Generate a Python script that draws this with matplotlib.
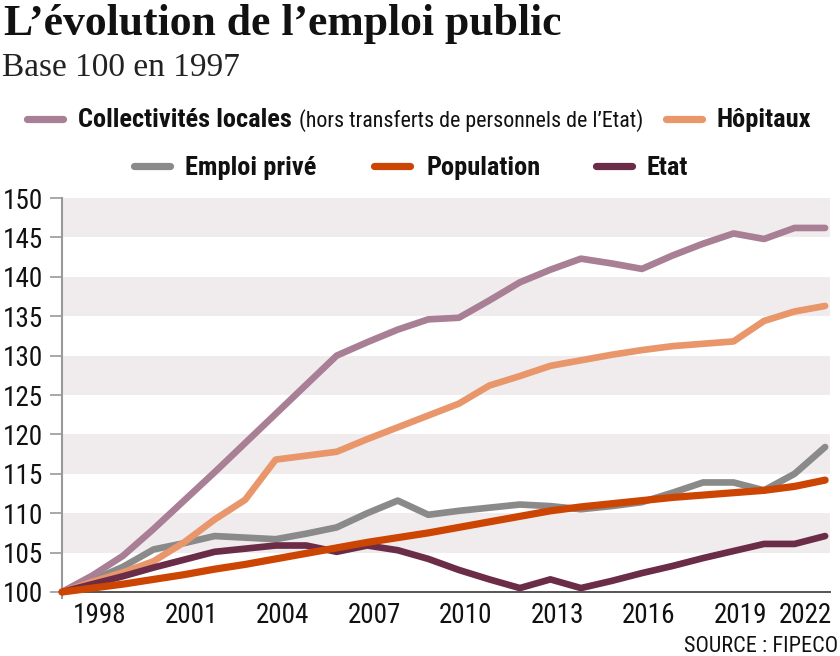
import matplotlib
matplotlib.use("Agg")
import matplotlib.pyplot as plt
from matplotlib import font_manager
from matplotlib.lines import Line2D
import matplotlib.transforms as mtransforms

years = list(range(1997, 2023))

collectivites = [100, 102.1, 104.6, 108.0, 111.6, 115.2, 118.9, 122.6, 126.3, 130.0,
                 131.7, 133.3, 134.6, 134.8, 137.0, 139.3, 140.9, 142.3, 141.7, 141.0,
                 142.7, 144.2, 145.5, 144.8, 146.2, 146.2]
hopitaux = [100, 101.3, 102.5, 103.9, 106.3, 109.2, 111.7, 116.8, 117.3, 117.8,
            119.4, 120.9, 122.4, 123.9, 126.2, 127.4, 128.7, 129.4, 130.1, 130.7,
            131.2, 131.5, 131.8, 134.4, 135.6, 136.3]
emploi_prive = [100, 101.5, 103.2, 105.4, 106.2, 107.1, 106.9, 106.7, 107.4, 108.2,
                110.0, 111.6, 109.8, 110.3, 110.7, 111.1, 110.9, 110.5, 110.9, 111.4,
                112.6, 113.9, 113.9, 112.9, 115.0, 118.4]
population = [100, 100.5, 101.0, 101.6, 102.2, 102.9, 103.5, 104.2, 104.9, 105.6,
              106.3, 106.9, 107.5, 108.2, 108.9, 109.6, 110.3, 110.8, 111.2, 111.6,
              112.0, 112.3, 112.6, 112.9, 113.4, 114.2]
etat = [100, 101.0, 102.0, 103.1, 104.1, 105.1, 105.5, 105.9, 105.9, 105.1,
        105.9, 105.3, 104.2, 102.8, 101.6, 100.5, 101.6, 100.5, 101.4, 102.4,
        103.3, 104.3, 105.2, 106.1, 106.1, 107.1]

x_ticks = [1998, 2001, 2004, 2007, 2010, 2013, 2016, 2019, 2022]
y_ticks = list(range(100, 151, 5))

C_COLL = "#a87f95"
C_HOP = "#e8966a"
C_PRIVE = "#8a8a8a"
C_POP = "#cd4503"
C_ETAT = "#6b2c47"

avail = {f.name for f in font_manager.fontManager.ttflist}


def pick(*names):
    return next((n for n in names if n in avail), "DejaVu Sans")


NARROW = pick("Liberation Sans Narrow", "Roboto Condensed", "Arial Narrow", "Liberation Sans")
SERIF = pick("Liberation Serif", "DejaVu Serif")

W, H = 840, 656
fig = plt.figure(figsize=(W / 100, H / 100), dpi=100)


def fx(px):
    return px / W


def fy(py):
    return 1 - py / H


ax = fig.add_axes([fx(62), fy(592), (830 - 62) / W, (592 - 198) / H])
ax.set_xlim(1997, 2022.16)
ax.set_ylim(100, 150)

# grey bands
for lo in range(105, 150, 10):
    ax.axhspan(lo, lo + 5, color="#f0ecee", lw=0, zorder=0)

series = [
    (emploi_prive, C_PRIVE, 4.8, 2),
    (collectivites, C_COLL, 4.8, 3),
    (hopitaux, C_HOP, 4.8, 4),
    (etat, C_ETAT, 4.8, 5),
    (population, C_POP, 5.2, 6),
]
for vals, col, lw, z in series:
    ax.plot(years, vals, color=col, lw=lw, solid_capstyle="round",
            solid_joinstyle="round", clip_on=False, zorder=z)

for s in ("top", "right"):
    ax.spines[s].set_visible(False)
ax.spines["left"].set_color("#999999")
ax.spines["left"].set_linewidth(1.5)
ax.spines["left"].set_bounds(99.2, 150)
ax.spines["bottom"].set_color("#555555")
ax.spines["bottom"].set_linewidth(1.4)
ax.spines["bottom"].set_zorder(1)

ax.set_yticks(y_ticks)
ax.set_yticklabels([str(v) for v in y_ticks])
ax.tick_params(axis="y", direction="out", length=8.5, width=1.2, color="#999999",
               pad=5, labelsize=19.5, labelcolor="#111111")
ax.set_xticks(x_ticks)
ax.set_xticklabels([str(v) for v in x_ticks])
ax.tick_params(axis="x", length=0, pad=7, labelsize=19.5, labelcolor="#111111")
for lab in ax.get_xticklabels() + ax.get_yticklabels():
    lab.set_family(NARROW)
xlabs = ax.get_xticklabels()
shift = mtransforms.ScaledTranslation(7 / 100, 0, fig.dpi_scale_trans)
for lab in xlabs:
    lab.set_transform(lab.get_transform() + shift)
# last label is kept inside the figure
xlabs[-1].set_horizontalalignment("right")

# titles
fig.text(fx(4), fy(35), "L\u2019évolution de l\u2019emploi public", family=SERIF,
         fontweight="bold", fontsize=31.5, color="#111111", va="baseline")
fig.text(fx(2), fy(76), "Base 100 en 1997", family=SERIF, fontsize=24,
         color="#222222", va="baseline")

# legend, drawn by hand in two centred rows
def handle(x0, x1, y, col):
    fig.add_artist(Line2D([fx(x0), fx(x1)], [fy(y), fy(y)], transform=fig.transFigure,
                          color=col, lw=5.2, solid_capstyle="round"))


def label(x, y, txt, bold=True, size=19):
    return fig.text(fx(x), fy(y), txt, family=NARROW, fontsize=size,
                    fontweight="bold" if bold else "normal", color="#111111",
                    va="baseline")


handle(27, 63, 119, C_COLL)
t1 = label(78, 127, "Collectivités locales")
handle(666, 702, 119, C_HOP)
label(717, 127, "Hôpitaux")
handle(134, 170, 166, C_PRIVE)
label(185, 175, "Emploi privé")
handle(374, 410, 166, C_POP)
label(427, 175, "Population")
handle(596, 632, 166, C_ETAT)
label(647, 175, "Etat")

fig.canvas.draw()
bb = t1.get_window_extent()
fig.text((bb.x1 + 7) / W, fy(127), "(hors transferts de personnels de l\u2019Etat)",
         family=NARROW, fontsize=15.8, color="#111111", va="baseline")

fig.text(fx(838), fy(652), "SOURCE : FIPECO", family=NARROW, fontsize=16,
         color="#111111", ha="right", va="baseline")

fig.savefig("out.png", dpi=100)
